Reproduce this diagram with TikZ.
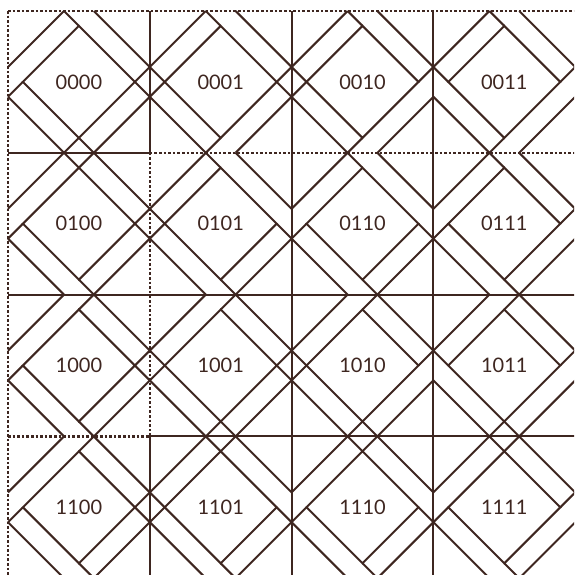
\documentclass[tikz,border=0pt]{standalone}
\usepackage{fontspec}
\setmainfont{Lato}
\usepackage{tikz}
\definecolor{ink}{RGB}{62,38,32}

\begin{document}
\begin{tikzpicture}[
    x=1pt, y=-1pt,
    band/.style={draw=ink, line width=2pt},
    solidline/.style={draw=ink, line width=2pt},
    dotline/.style={draw=ink, line width=2.4pt, dash pattern=on 2.6pt off 2pt},
    lbl/.style={font=\fontsize{20}{24}\selectfont, text=ink},
    pics/xnw/.style={code={\draw[band] (-14.9,0) -- (0,-14.9);}},
    pics/xne/.style={code={\draw[band] (0,-14.9) -- (14.9,0);}},
    pics/xse/.style={code={\draw[band] (14.9,0) -- (0,14.9);}},
    pics/xsw/.style={code={\draw[band] (0,14.9) -- (-14.9,0);}}
]
\useasboundingbox (0,0) rectangle (574,575);
\clip (0,0) rectangle (574,575);

% Cells: inner diamond, band lines, label
\foreach \row/\rbits in {0/00,1/01,2/10,3/11}{
  \foreach \col/\cbits in {0/00,1/01,2/10,3/11}{
    \begin{scope}[shift={(8+\col*141.8, 11+\row*141.8)}]
      \draw[band] (0,56) -- (56,0) (85.8,0) -- (141.8,56)
                  (141.8,85.8) -- (85.8,141.8) (56,141.8) -- (0,85.8);
      \draw[band] (70.9,14.9) -- (126.9,70.9) -- (70.9,126.9) -- (14.9,70.9) -- cycle;
      \node[lbl] (c\rbits\cbits) at (70.9,70.9) {\rbits\cbits};
    \end{scope}
  }
}

% Crossings on the vertical cell borders
\foreach \k/\r/\edges in {0/0/{se}, 0/1/{se}, 0/2/{se}, 0/3/{se},
    1/0/{nw,ne,se,sw}, 1/1/{nw,ne,se,sw}, 1/2/{nw,ne,se,sw}, 1/3/{nw,ne,se,sw},
    2/0/{nw,ne,se,sw}, 2/1/{se,sw}, 2/2/{nw,ne,se,sw}, 2/3/{se,sw},
    3/0/{nw,ne}, 3/1/{se,sw}, 3/2/{nw,ne}, 3/3/{se,sw},
    4/0/{nw}, 4/1/{nw}, 4/2/{nw}, 4/3/{nw}}{
  \foreach \e in \edges
    \pic at ({8+\k*141.8},{81.9+\r*141.8}) {x\e};
}

% Crossings on the horizontal cell borders
\foreach \k/\c/\edges in {0/0/{sw}, 0/1/{sw}, 0/2/{sw}, 0/3/{sw},
    1/0/{nw,ne,se,sw}, 1/1/{nw,sw}, 1/2/{nw,sw}, 1/3/{nw,sw},
    2/0/{ne,se}, 2/1/{ne,se}, 2/2/{ne,se}, 2/3/{ne,se},
    3/0/{ne,se}, 3/1/{nw,ne,se,sw}, 3/2/{nw,ne,se,sw}, 3/3/{nw,ne,se,sw},
    4/0/{ne}, 4/1/{ne}, 4/2/{ne}, 4/3/{ne}}{
  \foreach \e in \edges
    \pic at ({78.9+\c*141.8},{11+\k*141.8}) {x\e};
}

% Grid
\draw[dotline] (8,11) -- (575,11);
\draw[dotline] (8,11) -- (8,575);
\draw[solidline] (149.8,11) -- (149.8,152.8);
\draw[dotline] (149.8,152.8) -- (149.8,436.4);
\draw[solidline] (149.8,436.4) -- (149.8,575);
\draw[solidline] (291.6,11) -- (291.6,575);
\draw[solidline] (433.4,11) -- (433.4,575);
\draw[solidline] (8,152.8) -- (149.8,152.8);
\draw[dotline] (149.8,152.8) -- (575,152.8);
\draw[solidline] (8,294.6) -- (575,294.6);
\draw[dotline] (8,436.4) -- (149.8,436.4);
\draw[solidline] (149.8,436.4) -- (575,436.4);

\end{tikzpicture}
\end{document}
